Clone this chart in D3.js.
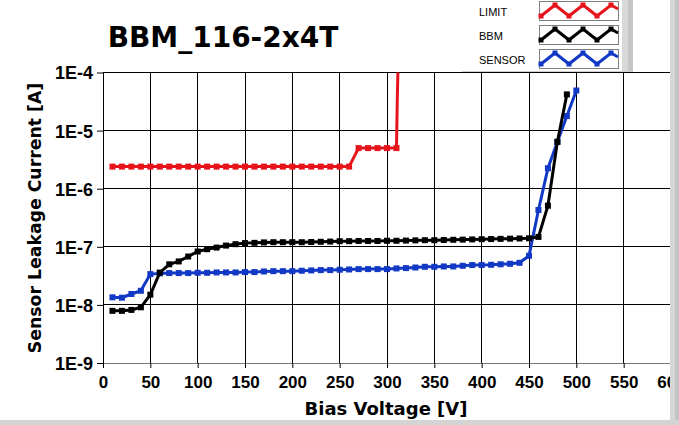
<!DOCTYPE html>
<html>
<head>
<meta charset="utf-8">
<script src="https://cdn.jsdelivr.net/npm/d3@7"></script>
<style>
  body { margin: 0; background: #fff; }
  svg { display: block; }
</style>
</head>
<body>
<div class="vis"></div>
<script>
// Data
const limitV = [10, 20, 30, 40, 50, 60, 70, 80, 90, 100, 110, 120, 130, 140, 150, 160, 170, 180, 190, 200, 210, 220, 230, 240, 250, 260, 270, 280, 290, 300, 310, 311, 313];
const limitI = [2.4e-6, 2.4e-6, 2.4e-6, 2.4e-6, 2.4e-6, 2.4e-6, 2.4e-6, 2.4e-6, 2.4e-6, 2.4e-6, 2.4e-6, 2.4e-6, 2.4e-6, 2.4e-6, 2.4e-6, 2.4e-6, 2.4e-6, 2.4e-6, 2.4e-6, 2.4e-6, 2.4e-6, 2.4e-6, 2.4e-6, 2.4e-6, 2.4e-6, 2.4e-6, 5.0e-6, 5.0e-6, 5.0e-6, 5.0e-6, 5.0e-6, 4.5e-5, 1e-3];

const bbmV = [10, 20, 30, 40, 50, 60, 70, 80, 90, 100, 110, 120, 130, 140, 150, 160, 170, 180, 190, 200, 210, 220, 230, 240, 250, 260, 270, 280, 290, 300, 310, 320, 330, 340, 350, 360, 370, 380, 390, 400, 410, 420, 430, 440, 450, 460, 470, 480, 490];
const bbmI = [7.9e-9, 7.9e-9, 8.2e-9, 9.1e-9, 1.5e-8, 3.6e-8, 5.0e-8, 5.6e-8, 6.8e-8, 8.3e-8, 9.1e-8, 9.7e-8, 1.05e-7, 1.11e-7, 1.16e-7, 1.17e-7, 1.19e-7, 1.2e-7, 1.2e-7, 1.2e-7, 1.2e-7, 1.21e-7, 1.22e-7, 1.23e-7, 1.25e-7, 1.25e-7, 1.26e-7, 1.26e-7, 1.26e-7, 1.27e-7, 1.27e-7, 1.28e-7, 1.29e-7, 1.3e-7, 1.3e-7, 1.31e-7, 1.32e-7, 1.33e-7, 1.34e-7, 1.35e-7, 1.36e-7, 1.37e-7, 1.38e-7, 1.39e-7, 1.4e-7, 1.48e-7, 5.1e-7, 6.4e-6, 4.2e-5];

const sensorV = [10, 20, 30, 40, 50, 60, 70, 80, 90, 100, 110, 120, 130, 140, 150, 160, 170, 180, 190, 200, 210, 220, 230, 240, 250, 260, 270, 280, 290, 300, 310, 320, 330, 340, 350, 360, 370, 380, 390, 400, 410, 420, 430, 440, 450, 460, 470, 480, 490, 500];
const sensorI = [1.35e-8, 1.33e-8, 1.54e-8, 1.75e-8, 3.39e-8, 3.48e-8, 3.53e-8, 3.53e-8, 3.53e-8, 3.57e-8, 3.57e-8, 3.62e-8, 3.62e-8, 3.62e-8, 3.67e-8, 3.67e-8, 3.76e-8, 3.81e-8, 3.81e-8, 3.81e-8, 3.87e-8, 3.92e-8, 3.97e-8, 3.97e-8, 4.03e-8, 4.07e-8, 4.13e-8, 4.13e-8, 4.13e-8, 4.13e-8, 4.24e-8, 4.3e-8, 4.4e-8, 4.53e-8, 4.53e-8, 4.59e-8, 4.59e-8, 4.71e-8, 4.85e-8, 4.85e-8, 4.9e-8, 5.0e-8, 5.1e-8, 5.3e-8, 7.0e-8, 4.3e-7, 2.25e-6, 6.4e-6, 1.78e-5, 4.9e-5];

const xTicks = [0, 50, 100, 150, 200, 250, 300, 350, 400, 450, 500, 550, 600];
const yTicks = [1e-9, 1e-8, 1e-7, 1e-6, 1e-5, 1e-4];
const yTickLabels = ["1E-9", "1E-8", "1E-7", "1E-6", "1E-5", "1E-4"];

const seriesNames = ["LIMIT", "BBM", "SENSOR"];
const seriesColors = ["#e8141c", "#000000", "#1238c6"];

// plot area
const W = 679, H = 425;
const plotLeft = 103, plotRight = 671, plotTop = 72.5, plotBottom = 363;

const svg = d3.select(".vis").append("svg").attr("width", W).attr("height", H);

const x = d3.scaleLinear().domain([0, 600]).range([plotLeft, plotRight]);
const y = d3.scaleLog().domain([1e-9, 1e-4]).range([plotBottom, plotTop]);

// title
svg.append("text")
  .attr("x", 223).attr("y", 47)
  .attr("text-anchor", "middle")
  .style("font-family", "DejaVu Sans")
  .style("font-weight", "bold")
  .style("font-size", "28px")
  .text("BBM_116-2x4T");

// grid
const grid = svg.append("g");
grid.selectAll(".vg").data(xTicks.slice(1)).enter().append("line")
  .attr("x1", (d) => x(d)).attr("x2", (d) => x(d))
  .attr("y1", plotTop).attr("y2", plotBottom)
  .attr("stroke", "#000").attr("stroke-width", 1).attr("shape-rendering", "crispEdges");
grid.selectAll(".hg").data(yTicks.slice(1)).enter().append("line")
  .attr("x1", plotLeft).attr("x2", plotRight)
  .attr("y1", (d) => y(d)).attr("y2", (d) => y(d))
  .attr("stroke", "#000").attr("stroke-width", 1).attr("shape-rendering", "crispEdges");

// axes
const xAxis = svg.append("g")
  .attr("transform", "translate(0," + plotBottom + ")")
  .call(d3.axisBottom(x).tickValues(xTicks).tickSize(5).tickSizeOuter(0).tickPadding(8))
  .style("font-family", "Liberation Sans")
  .style("font-weight", "bold")
  .style("font-size", "17px");
xAxis.select(".domain").attr("stroke", "#777");
xAxis.selectAll("text").attr("fill", "#000");

const yAxis = svg.append("g")
  .attr("transform", "translate(" + plotLeft + ",0)")
  .call(d3.axisLeft(y).tickValues(yTicks).tickFormat((d, i) => yTickLabels[i]).tickSize(6).tickSizeOuter(0).tickPadding(4))
  .style("font-family", "Liberation Sans")
  .style("font-weight", "bold")
  .style("font-size", "18px");
yAxis.selectAll("text").attr("fill", "#000").attr("dy", "0.36em");

// axis titles
svg.append("text")
  .attr("x", 386).attr("y", 415)
  .attr("text-anchor", "middle")
  .style("font-family", "DejaVu Sans")
  .style("font-weight", "bold")
  .style("font-size", "18px")
  .text("Bias Voltage [V]");

svg.append("text")
  .attr("transform", "translate(41,218) rotate(-90)")
  .attr("text-anchor", "middle")
  .style("font-family", "DejaVu Sans")
  .style("font-weight", "bold")
  .style("font-size", "17.3px")
  .text("Sensor Leakage Current [A]");

// data
svg.append("clipPath").attr("id", "plotclip")
  .append("rect").attr("x", plotLeft).attr("y", plotTop).attr("width", plotRight - plotLeft).attr("height", plotBottom - plotTop);

const plot = svg.append("g").attr("clip-path", "url(#plotclip)");

const series = [
  limitV.map((v, i) => ({ v: v, c: limitI[i] })),
  bbmV.map((v, i) => ({ v: v, c: bbmI[i] })),
  sensorV.map((v, i) => ({ v: v, c: sensorI[i] }))
];

const line = d3.line().x((d) => x(d.v)).y((d) => y(d.c));

// draw order: limit, sensor, bbm on top
[0, 2, 1].forEach((k) => {
  plot.append("path")
    .datum(series[k])
    .attr("fill", "none")
    .attr("stroke", seriesColors[k])
    .attr("stroke-width", 3)
    .attr("d", line);
  plot.selectAll(".m" + k)
    .data(series[k].filter((d) => d.v % 10 === 0))
    .enter()
    .append("rect")
    .attr("x", (d) => x(d.v) - 3)
    .attr("y", (d) => y(d.c) - 3)
    .attr("width", 6)
    .attr("height", 6)
    .attr("fill", seriesColors[k]);
});

// panel edges (grey strips), on top like the original window frame
svg.append("rect").attr("x", 670).attr("y", 0).attr("width", 9).attr("height", H).attr("fill", "#d6d6d6");
svg.append("rect").attr("x", 675).attr("y", 0).attr("width", 4).attr("height", H).attr("fill", "#c4c4c4");
svg.append("rect").attr("x", 0).attr("y", 420).attr("width", W).attr("height", 5).attr("fill", "#d4d4d4");

// legend panel
const legend = svg.append("g");
legend.append("rect").attr("x", 462).attr("y", 0).attr("width", 172).attr("height", 71).attr("fill", "#fff");
legend.append("rect").attr("x", 622).attr("y", 0).attr("width", 11).attr("height", 72).attr("fill", "#d8d8d8");
legend.append("rect").attr("x", 628).attr("y", 0).attr("width", 5).attr("height", 72).attr("fill", "#c6c6c6");
legend.append("line").attr("x1", 462).attr("x2", 633).attr("y1", 71.5).attr("y2", 71.5).attr("stroke", "#d0d0d0");

const zigX = [541, 555, 569, 583, 597, 611, 618];
const zigY = [16, 5, 16, 5, 16, 5, 9];

seriesNames.forEach((name, i) => {
  const oy = i * 24;
  legend.append("text")
    .attr("x", 479).attr("y", 16 + oy)
    .style("font-family", "Liberation Sans")
    .style("font-size", "11px")
    .attr("fill", "#000")
    .text(name);
  legend.append("rect")
    .attr("x", 539.5).attr("y", 1.5 + oy)
    .attr("width", 79).attr("height", 19)
    .attr("fill", "#fff").attr("stroke", "#808080");
  const pts = zigX.map((zx, j) => [zx, zigY[j] + oy]);
  legend.append("path")
    .attr("d", d3.line()(pts))
    .attr("fill", "none")
    .attr("stroke", seriesColors[i])
    .attr("stroke-width", 3);
  legend.selectAll(".lm" + i)
    .data(pts.slice(0, 6))
    .enter()
    .append("rect")
    .attr("x", (d) => d[0] - 2.5).attr("y", (d) => d[1] - 2.5)
    .attr("width", 5).attr("height", 5)
    .attr("fill", seriesColors[i]);
});
</script>
</body>
</html>
